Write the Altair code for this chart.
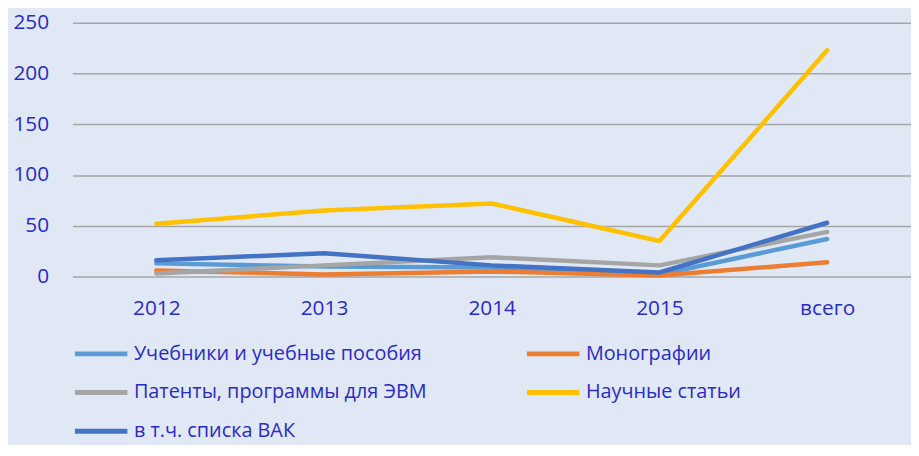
import altair as alt
import pandas as pd

categories = ["2012", "2013", "2014", "2015", "всего"]
series_names = [
    "Учебники и учебные пособия",
    "Монографии",
    "Патенты, программы для ЭВМ",
    "Научные статьи",
    "в т.ч. списка ВАК",
]
uchebniki = [13, 10, 9, 2, 37]
monografii = [6, 2, 5, 1, 14]
patenty = [3, 11, 19, 11, 44]
stati = [52, 65, 72, 35, 223]
vak = [16, 23, 11, 4, 53]
colors = ["#5b9bd5", "#ed7d31", "#a5a5a5", "#ffc000", "#4472c4"]

all_values = [uchebniki, monografii, patenty, stati, vak]
rows = []
for name, vals in zip(series_names, all_values):
    for cat, v in zip(categories, vals):
        rows.append({"Год": cat, "Значение": v, "Серия": name})
df = pd.DataFrame(rows)

# legend is laid out column by column: order the domain so that it reads row by row
legend_order = [0, 2, 4, 1, 3]
domain = [series_names[i] for i in legend_order]
rng = [colors[i] for i in legend_order]

TXT = "#2a2ac4"
FONT = "Open Sans"

chart = (
    alt.Chart(df)
    .mark_line(strokeWidth=4.5, strokeCap="round", strokeJoin="round")
    .encode(
        x=alt.X(
            "Год:N",
            sort=categories,
            scale=alt.Scale(type="point", padding=0.5),
            axis=alt.Axis(
                title=None,
                labelAngle=0,
                labelFontSize=21,
                labelFont=FONT,
                labelColor=TXT,
                labelPadding=21,
                ticks=False,
                domain=False,
                grid=False,
            ),
        ),
        y=alt.Y(
            "Значение:Q",
            scale=alt.Scale(domain=[0, 250], nice=False),
            axis=alt.Axis(
                title=None,
                values=[0, 50, 100, 150, 200, 250],
                labelFontSize=21,
                labelFont=FONT,
                labelColor=TXT,
                labelPadding=24,
                ticks=False,
                domain=False,
                grid=True,
                gridColor="#a6a6a6",
                gridWidth=1.5,
            ),
        ),
        color=alt.Color(
            "Серия:N",
            scale=alt.Scale(domain=domain, range=rng),
            legend=alt.Legend(
                title=None,
                orient="none",
                legendX=0,
                legendY=305,
                columns=2,
                columnPadding=90,
                rowPadding=0,
                symbolType="stroke",
                symbolSize=2800,
                symbolStrokeWidth=5,
                labelFontSize=20,
                labelFont=FONT,
                labelColor=TXT,
                labelOffset=4,
                labelLimit=400,
                padding=0,
            ),
        ),
    )
    .properties(
        width=846,
        height=256,
        padding={"left": 65, "top": 13, "right": 0, "bottom": 168},
        autosize=alt.AutoSizeParams(type="none"),
        background="#e0e8f6",
    )
    .configure_view(stroke=None)
)

chart.save("out.html", embed_options={"renderer": "svg", "actions": False})
